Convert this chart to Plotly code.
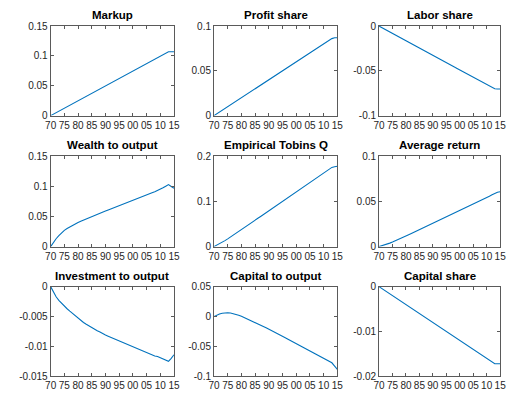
import plotly.graph_objects as go

years = list(range(1970, 2016))

markup = [0, .0025, .005, .0075, .010, .0125, .015, .0175, .020, .0225, .025, .0275, .030, .0325, .035,
          .0375, .040, .0425, .045, .0475, .050, .0525, .055, .0575, .060, .0625, .065, .0675, .070, .0725,
          .075, .0775, .080, .0825, .085, .0875, .090, .0925, .095, .0975, .100, .1025, .105, .107, .107, .107]

profit_share = [0, .002, .004, .006, .008, .010, .012, .014, .016, .018, .020, .022, .024, .026, .028,
                .030, .032, .034, .036, .038, .040, .042, .044, .046, .048, .050, .052, .054, .056, .058,
                .060, .062, .064, .066, .068, .070, .072, .074, .076, .078, .080, .082, .084, .086, .087, .087]

labor_share = [0, -.0016, -.0033, -.0049, -.0065, -.0082, -.0098, -.0114, -.0130, -.0147, -.0163, -.0179,
               -.0196, -.0212, -.0228, -.0245, -.0261, -.0277, -.0293, -.0310, -.0326, -.0342, -.0359,
               -.0375, -.0391, -.0408, -.0424, -.0440, -.0456, -.0473, -.0489, -.0505, -.0522, -.0538,
               -.0554, -.0571, -.0587, -.0603, -.0619, -.0636, -.0652, -.0668, -.0685, -.0700, -.0702, -.0702]

wealth_to_output = [0, .0075, .0130, .0180, .0227, .0270, .0300, .0328, .0353, .0377, .0400, .0421, .0441,
                    .0461, .0480, .0499, .0518, .0536, .0554, .0572, .0590, .0607, .0624, .0641, .0658,
                    .0675, .0692, .0709, .0726, .0743, .0760, .0779, .0798, .0817, .0836, .0855, .0874,
                    .0893, .0912, .0931, .0950, .0977, .1003, .1030, .1000, .0970]

tobins_q = [0, .0030, .0062, .0096, .0132, .0170, .0210, .0250, .0291, .0332, .0374, .0416, .0458, .0500,
            .0542, .0584, .0626, .0668, .0710, .0752, .0794, .0836, .0878, .0920, .0962, .1004, .1046,
            .1088, .1130, .1172, .1214, .1256, .1298, .1340, .1382, .1424, .1466, .1508, .1550, .1592,
            .1634, .1676, .1718, .1755, .1770, .1780]

average_return = [0, .0008, .0017, .0027, .0038, .0050, .0062, .0075, .0088, .0102, .0116, .0130, .0144,
                  .0158, .0173, .0187, .0201, .0215, .0229, .0244, .0258, .0272, .0286, .0300, .0315,
                  .0329, .0343, .0357, .0371, .0386, .0400, .0414, .0428, .0442, .0457, .0471, .0485,
                  .0499, .0513, .0528, .0542, .0558, .0575, .0592, .0603, .0608]

investment_to_output = [0, -.0009, -.0017, -.0023, -.0028, -.0032, -.0037, -.0041, -.0045, -.0049, -.0053,
                        -.0056, -.0060, -.0063, -.0066, -.0069, -.0071, -.0074, -.0076, -.0079, -.0081,
                        -.0083, -.0085, -.0087, -.0089, -.0091, -.0093, -.0095, -.0097, -.0099, -.0101,
                        -.0103, -.0104, -.0106, -.0108, -.0110, -.0112, -.0114, -.0116, -.0117, -.0119,
                        -.0121, -.0123, -.0125, -.0120, -.0114]

capital_to_output = [0, .0025, .0043, .0055, .0061, .0062, .0058, .0050, .0038, .0022, .0004, -.0016,
                     -.0037, -.0058, -.0080, -.0102, -.0124, -.0146, -.0168, -.0190, -.0212, -.0236,
                     -.0259, -.0284, -.0308, -.0333, -.0357, -.0382, -.0406, -.0431, -.0455, -.0480,
                     -.0504, -.0529, -.0553, -.0578, -.0602, -.0627, -.0651, -.0676, -.0700, -.0725,
                     -.0749, -.0775, -.0830, -.0885]

capital_share = [0, -.0004, -.0008, -.0012, -.0016, -.0020, -.0024, -.0028, -.0032, -.0036, -.0040,
                 -.0044, -.0048, -.0052, -.0056, -.0060, -.0064, -.0068, -.0072, -.0076, -.0080, -.0084,
                 -.0088, -.0092, -.0096, -.0100, -.0104, -.0108, -.0112, -.0116, -.0120, -.0124, -.0128,
                 -.0132, -.0136, -.0140, -.0144, -.0148, -.0152, -.0156, -.0160, -.0164, -.0168, -.0172,
                 -.0172, -.0172]

titles = ["Markup", "Profit share", "Labor share",
          "Wealth to output", "Empirical Tobins Q", "Average return",
          "Investment to output", "Capital to output", "Capital share"]
series = [markup, profit_share, labor_share,
          wealth_to_output, tobins_q, average_return,
          investment_to_output, capital_to_output, capital_share]

x_tickvals = [1970, 1975, 1980, 1985, 1990, 1995, 2000, 2005, 2010, 2015]
x_ticktext = ["70", "75", "80", "85", "90", "95", "00", "05", "10", "15"]

y_ranges = [[0, 0.15], [0, 0.1], [-0.1, 0],
            [0, 0.15], [0, 0.2], [0, 0.1],
            [-0.015, 0], [-0.1, 0.05], [-0.02, 0]]
y_tickvals = [[0, 0.05, 0.1, 0.15], [0, 0.05, 0.1], [-0.1, -0.05, 0],
              [0, 0.05, 0.1, 0.15], [0, 0.1, 0.2], [0, 0.05, 0.1],
              [-0.015, -0.01, -0.005, 0], [-0.1, -0.05, 0, 0.05], [-0.02, -0.01, 0]]
y_ticktext = [["0", "0.05", "0.1", "0.15"], ["0", "0.05", "0.1"], ["-0.1", "-0.05", "0"],
              ["0", "0.05", "0.1", "0.15"], ["0", "0.1", "0.2"], ["0", "0.05", "0.1"],
              ["-0.015", "-0.01", "-0.005", "0"], ["-0.1", "-0.05", "0", "0.05"], ["-0.02", "-0.01", "0"]]

W, H = 512, 400
col_px = [(45.7, 172.0), (213.0, 339.3), (382.0, 506.0)]
row_px = [(20.7, 113.0), (155.0, 248.0), (289.3, 381.7)]

fig = go.Figure()
axis_color = "#5a5a5a"
tick_font = dict(family="Liberation Sans, Arial, sans-serif", size=10, color="#262626")

for i in range(9):
    r, c = divmod(i, 3)
    n = i + 1
    xa = "x" if n == 1 else f"x{n}"
    ya = "y" if n == 1 else f"y{n}"
    xd = [col_px[c][0] / W, col_px[c][1] / W]
    yd = [1 - row_px[r][1] / H, 1 - row_px[r][0] / H]
    fig.add_trace(go.Scatter(x=years, y=series[i], mode="lines",
                             line=dict(color="#0072BD", width=1.1),
                             xaxis=xa, yaxis=ya, showlegend=False, hoverinfo="skip"))
    common = dict(showline=True, linecolor=axis_color, linewidth=1, mirror="ticks",
                  ticks="inside", ticklen=3, tickwidth=1, tickcolor=axis_color,
                  showgrid=False, zeroline=False, tickfont=tick_font, tickangle=0)
    fig.layout[("xaxis" if n == 1 else f"xaxis{n}")] = dict(
        domain=xd, range=[1970, 2015], tickmode="array", tickvals=x_tickvals,
        ticktext=x_ticktext, anchor=ya, **common)
    fig.layout[("yaxis" if n == 1 else f"yaxis{n}")] = dict(
        domain=yd, range=y_ranges[i], tickmode="array", tickvals=y_tickvals[i],
        ticktext=y_ticktext[i], anchor=xa, **common)
    fig.add_annotation(text=f"<b>{titles[i]}</b>", xref="paper", yref="paper",
                       x=(xd[0] + xd[1]) / 2, y=yd[1], xanchor="center", yanchor="bottom",
                       yshift=3, showarrow=False,
                       font=dict(family="Liberation Sans, Arial, sans-serif", size=11.5, color="#000000"))

fig.update_layout(width=W, height=H, margin=dict(l=0, r=0, t=0, b=0),
                  paper_bgcolor="white", plot_bgcolor="white")

fig.write_html("out.html", config={"displayModeBar": False},
               post_script="document.body.style.margin='0';document.body.style.overflow='hidden';")
